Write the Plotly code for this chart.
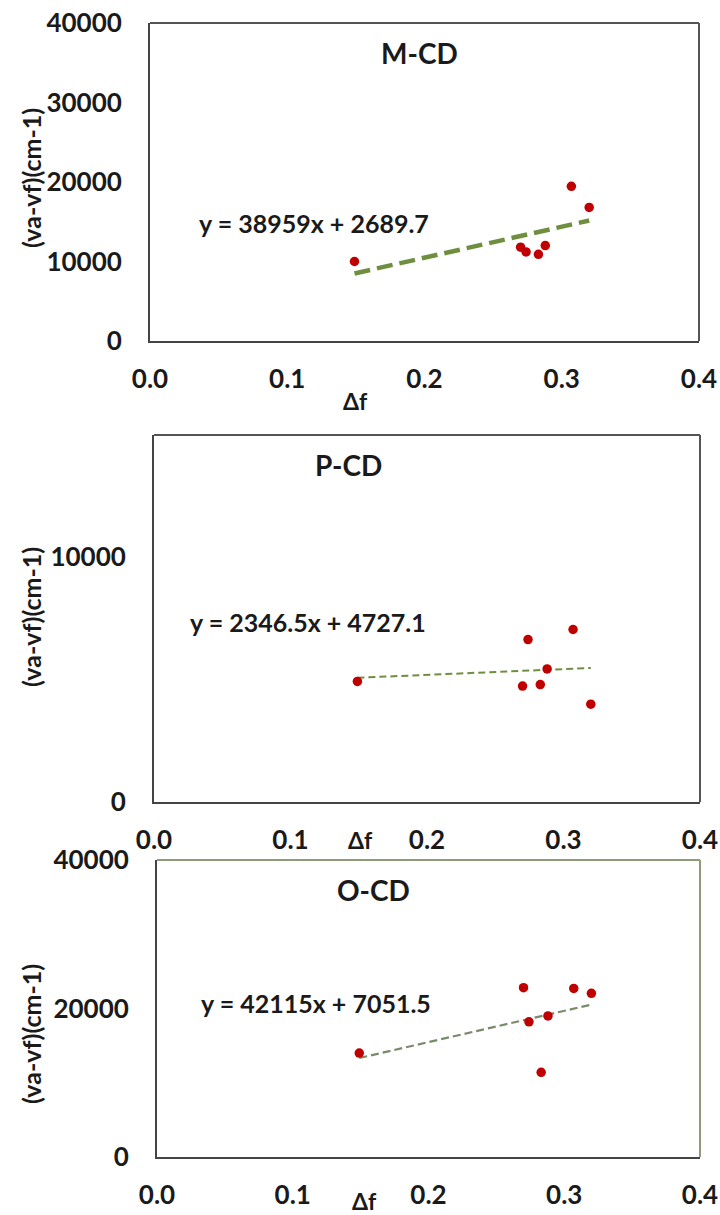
import plotly.graph_objects as go

W, H = 720, 1215

# ---- data ----
delta_f = [0.149, 0.270, 0.274, 0.283, 0.288, 0.307, 0.320]

mcd_y = [10000, 11800, 11200, 10900, 12000, 19450, 16800]
pcd_y = [4930, 4740, 6640, 4800, 5440, 7050, 4000]
ocd_y = [13990, 22800, 18200, 11400, 19000, 22700, 22040]

panel_names = ["M-CD", "P-CD", "O-CD"]
slopes = [38959, 2346.5, 42115]
intercepts = [2689.7, 4727.1, 7051.5]
equations = ["y = 38959x + 2689.7", "y = 2346.5x + 4727.1", "y = 42115x + 7051.5"]
y_max = [40000, 15000, 40000]
y_ticks = [[0, 10000, 20000, 30000, 40000], [0, 10000], [0, 20000, 40000]]
x_ticks = [0.0, 0.1, 0.2, 0.3, 0.4]

series = [mcd_y, pcd_y, ocd_y]

# ---- layout (pixel boxes) ----
boxes = [(150, 699, 23, 341), (154, 700, 435, 802), (157, 700, 860, 1157)]
title_pos = [(419, 53), (348, 465), (373, 890)]
eq_pos = [(197, 223), (188, 622), (199, 1003)]
ytitle_pos = [(31, 178), (31, 617), (31, 1034)]
xtitle_pos = [(355, 401), (360, 840), (364, 1201)]
line_styles = [dict(color="#6f8f3f", width=4.5, dash="16px,7px"),
               dict(color="#6f8f3f", width=2, dash="7px,4px"),
               dict(color="#7a8a6a", width=2.2, dash="8px,4px")]
border_colors = ["#555555", "#555555", "#8f9c7c"]

FONT = "Lato"
TXT = "#1a1a1a"


def px(x):
    return x / W


def py(y):
    return 1 - y / H


fig = go.Figure()
annotations = []
shapes = []
layout_axes = {}

for i in range(3):
    xa = "x" if i == 0 else f"x{i+1}"
    ya = "y" if i == 0 else f"y{i+1}"
    xkey = "xaxis" if i == 0 else f"xaxis{i+1}"
    ykey = "yaxis" if i == 0 else f"yaxis{i+1}"
    l, r, t, b = boxes[i]

    # trendline from displayed fit equation
    xs = [min(delta_f), max(delta_f)]
    ys = [slopes[i] * v + intercepts[i] for v in xs]
    fig.add_trace(go.Scatter(x=xs, y=ys, mode="lines", line=line_styles[i],
                             xaxis=xa, yaxis=ya, showlegend=False, hoverinfo="skip"))
    fig.add_trace(go.Scatter(x=delta_f, y=series[i], mode="markers",
                             marker=dict(color="#c00000", size=9.5),
                             xaxis=xa, yaxis=ya, showlegend=False))

    layout_axes[xkey] = dict(domain=[px(l), px(r)], range=[0, 0.4], anchor=ya,
                             tickvals=x_ticks, ticktext=[f"{v:.1f}" for v in x_ticks],
                             showgrid=False, zeroline=False, showline=True,
                             linecolor="#444444", linewidth=2, mirror=False,
                             ticks="", ticklabelstandoff=14, automargin=False,
                             tickfont=dict(family=FONT, size=26, color=TXT, weight="bold"))
    layout_axes[ykey] = dict(domain=[py(b), py(t)], range=[0, y_max[i]], anchor=xa,
                             tickvals=y_ticks[i], ticktext=[str(v) for v in y_ticks[i]],
                             showgrid=False, zeroline=False, showline=True,
                             linecolor="#444444", linewidth=2, mirror=False,
                             ticks="", ticklabelstandoff=21, automargin=False,
                             tickfont=dict(family=FONT, size=26, color=TXT, weight="bold"))

    # top & right border
    shapes.append(dict(type="line", xref="paper", yref="paper",
                       x0=px(l), x1=px(r), y0=py(t), y1=py(t),
                       line=dict(color=border_colors[i], width=2)))
    shapes.append(dict(type="line", xref="paper", yref="paper",
                       x0=px(r), x1=px(r), y0=py(t), y1=py(b),
                       line=dict(color=border_colors[i], width=2)))

    annotations.append(dict(text=panel_names[i], x=px(title_pos[i][0]), y=py(title_pos[i][1]),
                            xref="paper", yref="paper", showarrow=False,
                            xanchor="center", yanchor="middle",
                            font=dict(family=FONT, size=28, color=TXT, weight="bold")))
    annotations.append(dict(text=equations[i], x=px(eq_pos[i][0]), y=py(eq_pos[i][1]),
                            xref="paper", yref="paper", showarrow=False,
                            xanchor="left", yanchor="middle",
                            font=dict(family=FONT, size=25, color=TXT, weight="bold")))
    annotations.append(dict(text="(va-vf)(cm-1)", x=px(ytitle_pos[i][0]), y=py(ytitle_pos[i][1]),
                            xref="paper", yref="paper", showarrow=False, textangle=-90,
                            xanchor="center", yanchor="middle",
                            font=dict(family=FONT, size=25, color=TXT, weight="bold")))
    annotations.append(dict(text="Δf", x=px(xtitle_pos[i][0]), y=py(xtitle_pos[i][1]),
                            xref="paper", yref="paper", showarrow=False,
                            xanchor="center", yanchor="middle",
                            font=dict(family=FONT, size=23, color=TXT, weight="bold")))

fig.update_layout(width=W, height=H, margin=dict(l=0, r=0, t=0, b=0),
                  paper_bgcolor="white", plot_bgcolor="white",
                  annotations=annotations, shapes=shapes, **layout_axes)

fig.write_html("out.html", config={"displayModeBar": False},
               post_script="document.body.style.margin='0';document.body.style.padding='0';")
